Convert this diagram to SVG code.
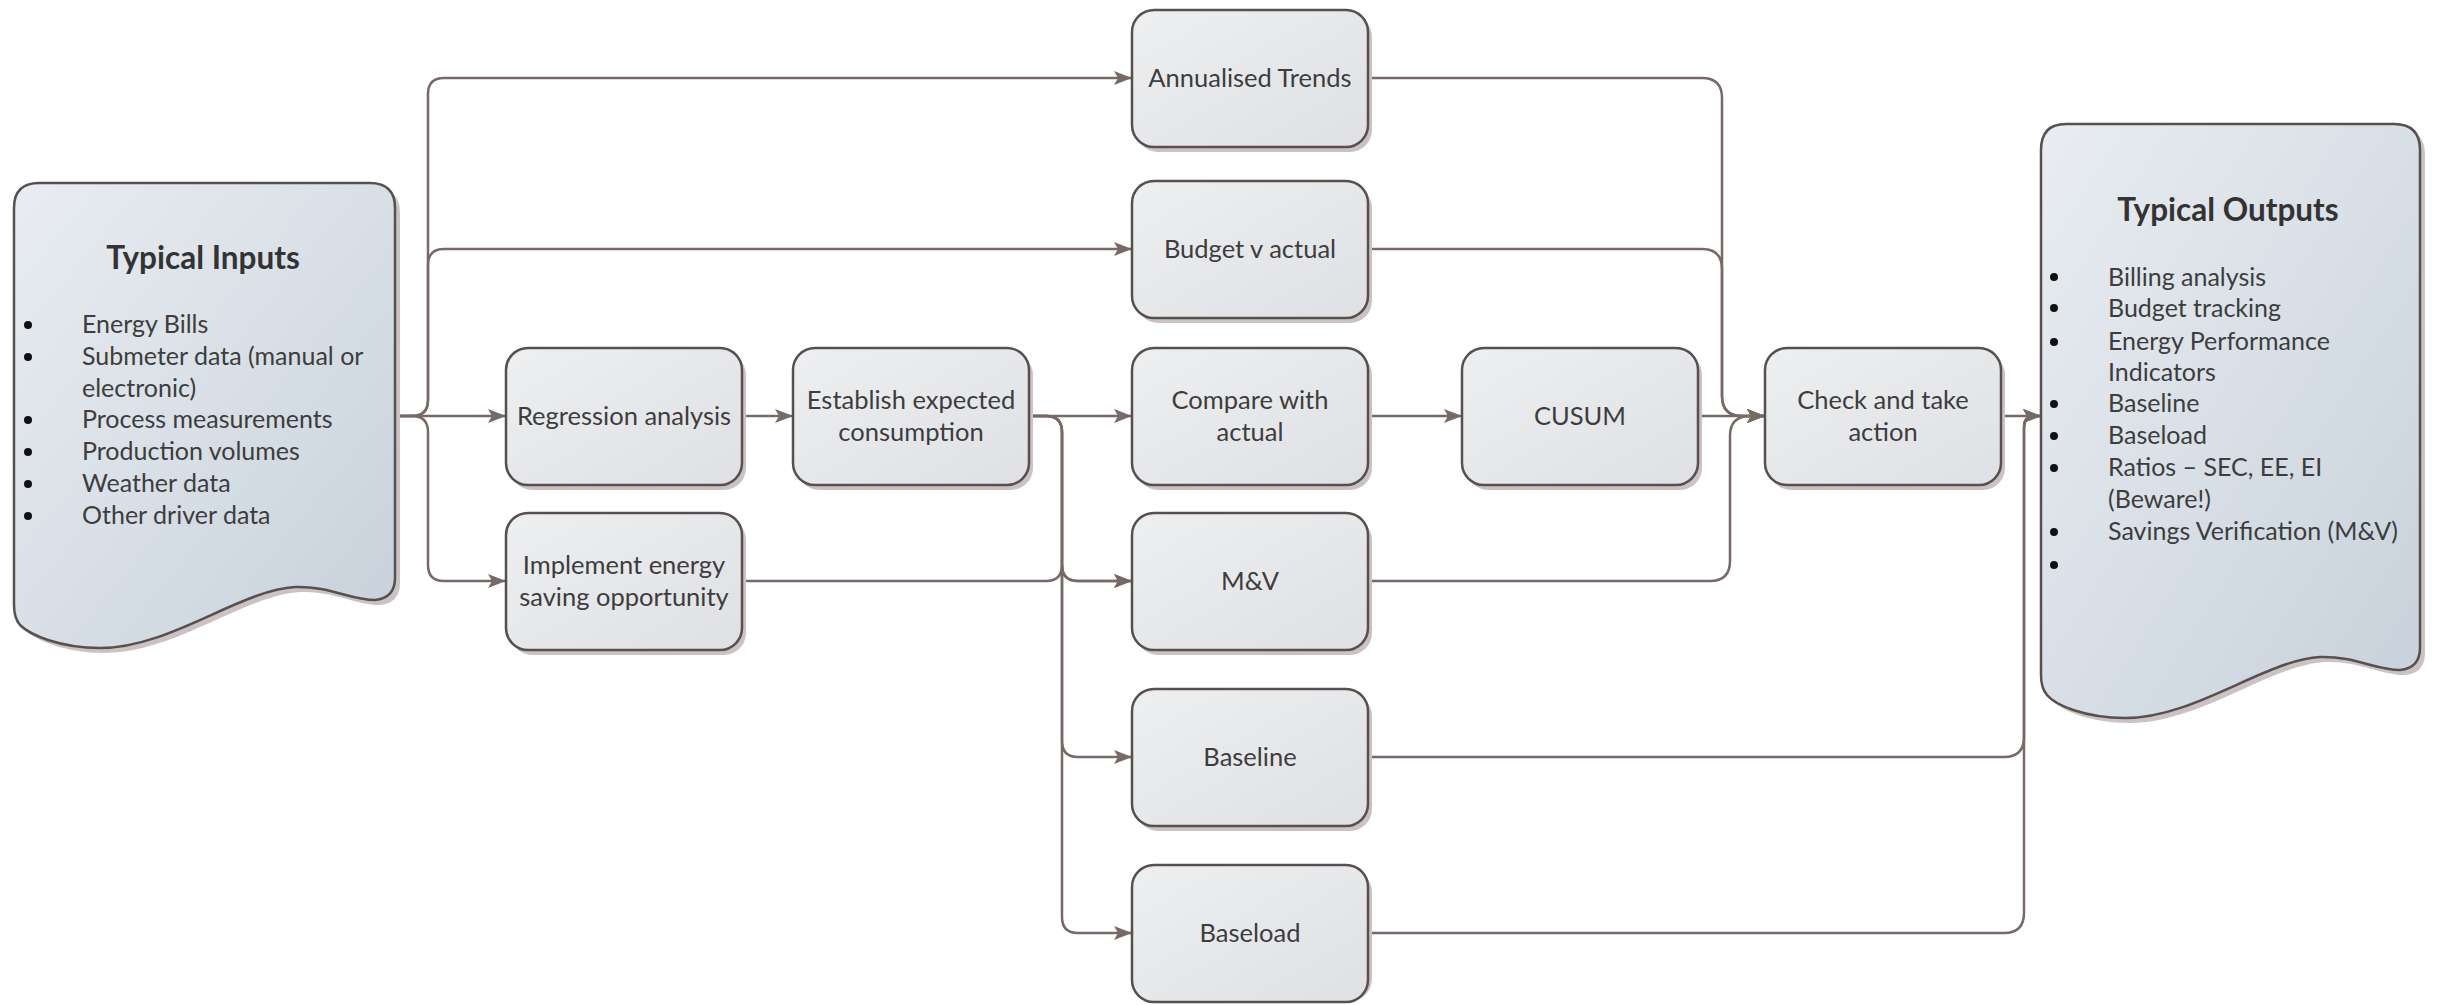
<svg xmlns="http://www.w3.org/2000/svg" width="2438" height="1005" viewBox="0 0 2438 1005">
<defs>
<linearGradient id="boxGrad" x1="0" y1="0" x2="1" y2="1">
<stop offset="0" stop-color="#eeeff1"/>
<stop offset="1" stop-color="#dfe0e3"/>
</linearGradient>
<linearGradient id="ioGrad" x1="0" y1="0" x2="1" y2="1">
<stop offset="0" stop-color="#e9edf1"/>
<stop offset="1" stop-color="#c7d1db"/>
</linearGradient>
<marker id="arr" markerUnits="userSpaceOnUse" markerWidth="20" markerHeight="16" refX="18" refY="7" orient="auto">
<path d="M0,0 L18,7 L0,14 L4,7 Z" fill="#776966"/>
</marker>
</defs>
<style>
.box rect.b { fill: url(#boxGrad); stroke: #57504e; stroke-width: 2.5; }
.box rect.s { fill: #cbc3c1; }
.io path.b { fill: url(#ioGrad); stroke: #57504e; stroke-width: 2.5; }
.io path.s { fill: #cbc3c1; }
.lbl { font-family: Lato, "Open Sans", sans-serif; font-size: 25.5px; fill: #3d3d3d; text-anchor: middle; }
.ttl { font-family: Lato, "Open Sans", sans-serif; font-size: 31.5px; font-weight: bold; fill: #333333; text-anchor: middle; }
.li { font-family: Lato, "Open Sans", sans-serif; font-size: 25px; fill: #3d3d3d; }
.dot { fill: #111111; }
.conn path { fill: none; stroke: #776966; stroke-width: 2.5; marker-end: url(#arr); }
</style>
<rect width="2438" height="1005" fill="#ffffff"/>

<g id="connectors" class="conn">
<path d="M395,416 H412 Q428,416 428,400 V94 Q428,78 444,78 H1132"/>
<path d="M395,416 H412 Q428,416 428,400 V265 Q428,249 444,249 H1132"/>
<path d="M395,416 H506"/>
<path d="M395,416 H412 Q428,416 428,432 V565 Q428,581 444,581 H506"/>
<path d="M742,416 H793"/>
<path d="M1029,416 H1132"/>
<path d="M1029,416 H1046 Q1062,416 1062,432 V565 Q1062,581 1078,581 H1132"/>
<path d="M1029,416 H1046 Q1062,416 1062,432 V741 Q1062,757 1078,757 H1132"/>
<path d="M1029,416 H1046 Q1062,416 1062,432 V917 Q1062,933 1078,933 H1132"/>
<path d="M742,581 H1046 Q1062,581 1062,565 Q1062,581 1078,581 H1132"/>
<path d="M1368,416 H1462"/>
<path d="M1698,416 H1765"/>
<path d="M1368,78 H1702 Q1722,78 1722,98 V396 Q1722,416 1742,416 H1765"/>
<path d="M1368,249 H1702 Q1722,249 1722,269 V396 Q1722,416 1742,416 H1765"/>
<path d="M1368,581 H1710 Q1730,581 1730,561 V436 Q1730,416 1750,416 H1765"/>
<path d="M2001,416 H2041"/>
<path d="M1368,757 H2004 Q2024,757 2024,737 V428 Q2024,416 2034,416 H2041"/>
<path d="M1368,933 H2004 Q2024,933 2024,913 V428 Q2024,416 2034,416 H2041"/>
</g>

<g id="inputs" class="io">
<path class="s" transform="translate(5,5)" d="M39,183 H370 Q395,183 395,208 V578 Q395,598 375,600 C350,600 330,586 295,587 C240,590 170,648 100,648 C60,648 30,635 20,625 Q14,618 14,605 V208 Q14,183 39,183 Z"/>
<path class="b" d="M39,183 H370 Q395,183 395,208 V578 Q395,598 375,600 C350,600 330,586 295,587 C240,590 170,648 100,648 C60,648 30,635 20,625 Q14,618 14,605 V208 Q14,183 39,183 Z"/>
<text class="ttl" x="203" y="269">Typical Inputs</text>
<circle class="dot" cx="28" cy="325" r="4"/>
<circle class="dot" cx="28" cy="357" r="4"/>
<circle class="dot" cx="28" cy="420" r="4"/>
<circle class="dot" cx="28" cy="452" r="4"/>
<circle class="dot" cx="28" cy="484" r="4"/>
<circle class="dot" cx="28" cy="516" r="4"/>
<text class="li" x="82" y="333">Energy Bills</text>
<text class="li" x="82" y="365">Submeter data (manual or</text>
<text class="li" x="82" y="397">electronic)</text>
<text class="li" x="82" y="428">Process measurements</text>
<text class="li" x="82" y="460">Production volumes</text>
<text class="li" x="82" y="492">Weather data</text>
<text class="li" x="82" y="524">Other driver data</text>
</g>

<g id="outputs" class="io">
<path class="s" transform="translate(5,5)" d="M2066,124 H2394 Q2420,124 2420,150 V648 Q2420,668 2400,670 C2375,670 2355,656 2320,657 C2265,660 2195,718 2125,718 C2085,718 2055,705 2047,695 Q2041,688 2041,675 V150 Q2041,124 2066,124 Z"/>
<path class="b" d="M2066,124 H2394 Q2420,124 2420,150 V648 Q2420,668 2400,670 C2375,670 2355,656 2320,657 C2265,660 2195,718 2125,718 C2085,718 2055,705 2047,695 Q2041,688 2041,675 V150 Q2041,124 2066,124 Z"/>
<text class="ttl" x="2228" y="221">Typical Outputs</text>
<circle class="dot" cx="2054" cy="277" r="4"/>
<circle class="dot" cx="2054" cy="308" r="4"/>
<circle class="dot" cx="2054" cy="342" r="4"/>
<circle class="dot" cx="2054" cy="404" r="4"/>
<circle class="dot" cx="2054" cy="436" r="4"/>
<circle class="dot" cx="2054" cy="468" r="4"/>
<circle class="dot" cx="2054" cy="532" r="4"/>
<circle class="dot" cx="2054" cy="565" r="4"/>
<text class="li" x="2108" y="286">Billing analysis</text>
<text class="li" x="2108" y="317">Budget tracking</text>
<text class="li" x="2108" y="350">Energy Performance</text>
<text class="li" x="2108" y="381">Indicators</text>
<text class="li" x="2108" y="412">Baseline</text>
<text class="li" x="2108" y="444">Baseload</text>
<text class="li" x="2108" y="476">Ratios – SEC, EE, EI</text>
<text class="li" x="2108" y="508">(Beware!)</text>
<text class="li" x="2108" y="540">Savings Verification (M&amp;V)</text>
</g>

<g id="annualised" class="box">
<rect class="s" x="1136" y="15" width="236" height="137" rx="22"/>
<rect class="b" x="1132" y="10" width="236" height="137" rx="22"/>
<text class="lbl" x="1250" y="87">Annualised Trends</text>
</g>
<g id="budget" class="box">
<rect class="s" x="1136" y="186" width="236" height="137" rx="22"/>
<rect class="b" x="1132" y="181" width="236" height="137" rx="22"/>
<text class="lbl" x="1250" y="258">Budget v actual</text>
</g>
<g id="regression" class="box">
<rect class="s" x="510" y="353" width="236" height="137" rx="22"/>
<rect class="b" x="506" y="348" width="236" height="137" rx="22"/>
<text class="lbl" x="624" y="425">Regression analysis</text>
</g>
<g id="establish" class="box">
<rect class="s" x="797" y="353" width="236" height="137" rx="22"/>
<rect class="b" x="793" y="348" width="236" height="137" rx="22"/>
<text class="lbl" x="911" y="409">Establish expected</text>
<text class="lbl" x="911" y="441">consumption</text>
</g>
<g id="compare" class="box">
<rect class="s" x="1136" y="353" width="236" height="137" rx="22"/>
<rect class="b" x="1132" y="348" width="236" height="137" rx="22"/>
<text class="lbl" x="1250" y="409">Compare with</text>
<text class="lbl" x="1250" y="441">actual</text>
</g>
<g id="cusum" class="box">
<rect class="s" x="1466" y="353" width="236" height="137" rx="22"/>
<rect class="b" x="1462" y="348" width="236" height="137" rx="22"/>
<text class="lbl" x="1580" y="425">CUSUM</text>
</g>
<g id="check" class="box">
<rect class="s" x="1769" y="353" width="236" height="137" rx="22"/>
<rect class="b" x="1765" y="348" width="236" height="137" rx="22"/>
<text class="lbl" x="1883" y="409">Check and take</text>
<text class="lbl" x="1883" y="441">action</text>
</g>
<g id="implement" class="box">
<rect class="s" x="510" y="518" width="236" height="137" rx="22"/>
<rect class="b" x="506" y="513" width="236" height="137" rx="22"/>
<text class="lbl" x="624" y="574">Implement energy</text>
<text class="lbl" x="624" y="606">saving opportunity</text>
</g>
<g id="mv" class="box">
<rect class="s" x="1136" y="518" width="236" height="137" rx="22"/>
<rect class="b" x="1132" y="513" width="236" height="137" rx="22"/>
<text class="lbl" x="1250" y="590">M&amp;V</text>
</g>
<g id="baseline" class="box">
<rect class="s" x="1136" y="694" width="236" height="137" rx="22"/>
<rect class="b" x="1132" y="689" width="236" height="137" rx="22"/>
<text class="lbl" x="1250" y="766">Baseline</text>
</g>
<g id="baseload" class="box">
<rect class="s" x="1136" y="870" width="236" height="131" rx="22"/>
<rect class="b" x="1132" y="865" width="236" height="137" rx="22"/>
<text class="lbl" x="1250" y="942">Baseload</text>
</g>
</svg>
